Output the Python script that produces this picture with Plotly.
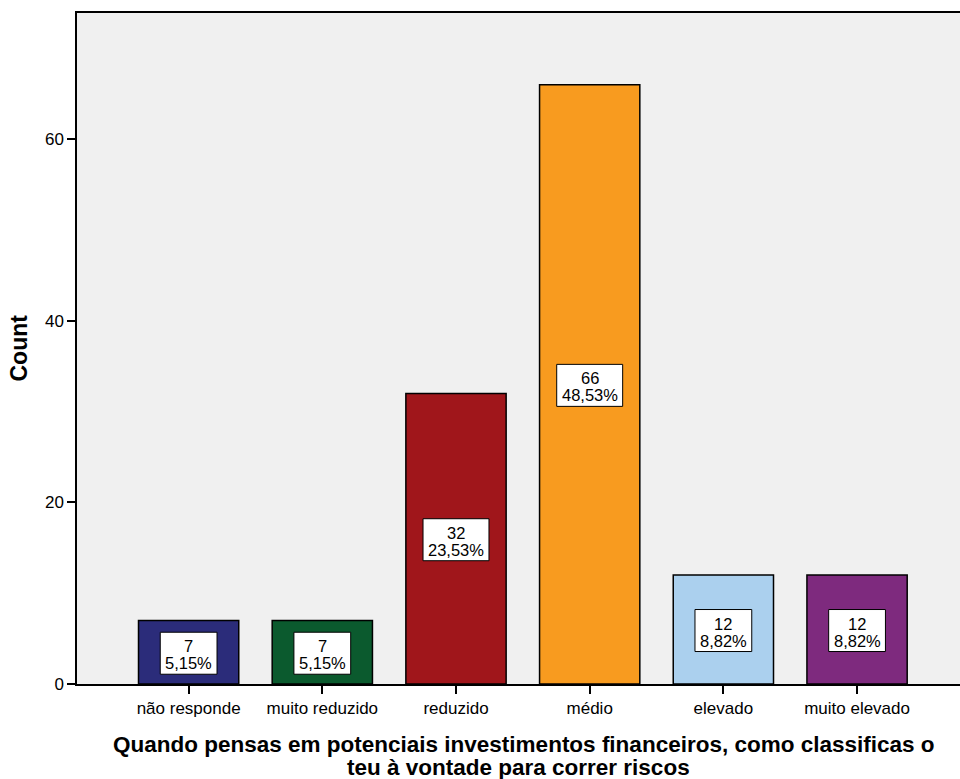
import plotly.graph_objects as go

categories = ["não responde", "muito reduzido", "reduzido", "médio", "elevado", "muito elevado"]
counts = [7, 7, 32, 66, 12, 12]
percents = ["5,15%", "5,15%", "23,53%", "48,53%", "8,82%", "8,82%"]
colors = ["#2B2C7A", "#0B5A2E", "#A0161B", "#F89B1F", "#ABD0EE", "#7E2A7E"]
y_ticks = [0, 20, 40, 60]
x_title_lines = ["Quando pensas em potenciais investimentos financeiros, como classificas o",
                 "teu à vontade para correr riscos"]
y_title = "Count"

FONT = "Liberation Sans, Arial, sans-serif"
LABEL_SIZE = 16.5

def text_width(s, size):
    w = {",": 0.278, "%": 0.889}
    return sum(w.get(c, 0.556) for c in s) * size

fig = go.Figure()
fig.add_trace(go.Bar(
    x=categories, y=counts, width=0.75,
    marker=dict(color=colors, line=dict(color="black", width=1.5)),
    hoverinfo="skip",
))

shapes = []
annotations = []
for i, (c, p) in enumerate(zip(counts, percents)):
    bw = text_width(p, LABEL_SIZE) + 10
    shapes.append(dict(
        type="rect", xref="x", yref="y",
        xsizemode="pixel", ysizemode="pixel",
        xanchor=i, yanchor=c / 2,
        x0=-bw / 2, x1=bw / 2, y0=-22, y1=20,
        fillcolor="white", line=dict(color="black", width=1),
    ))
    annotations.append(dict(
        x=i, y=c / 2, xref="x", yref="y", text=str(c), showarrow=False,
        yshift=6, font=dict(family=FONT, size=LABEL_SIZE, color="black"),
    ))
    annotations.append(dict(
        x=i, y=c / 2, xref="x", yref="y", text=p, showarrow=False,
        yshift=-11, font=dict(family=FONT, size=LABEL_SIZE, color="black"),
    ))

annotations.append(dict(
    x=0.5, y=0, xref="paper", yref="paper", text=x_title_lines[0], showarrow=False,
    xanchor="center", yanchor="middle", xshift=5, yshift=-60, borderpad=0,
    font=dict(family=FONT, size=22.5, color="black", weight="bold"),
))
annotations.append(dict(
    x=0.5, y=0, xref="paper", yref="paper", text=x_title_lines[1], showarrow=False,
    xanchor="center", yanchor="middle", xshift=0, yshift=-83, borderpad=0,
    font=dict(family=FONT, size=22.5, color="black", weight="bold"),
))
annotations.append(dict(
    x=0, y=0.5, xref="paper", yref="paper", text=y_title, showarrow=False,
    textangle=-90, xanchor="center", yanchor="middle", xshift=-59,
    font=dict(family=FONT, size=23, color="black", weight="bold"),
))

fig.update_layout(
    width=960, height=779,
    margin=dict(l=77, r=0, t=13, b=95),
    paper_bgcolor="white", plot_bgcolor="#F0F0F0",
    showlegend=False,
    shapes=shapes, annotations=annotations,
    font=dict(family=FONT, color="black"),
)
fig.update_xaxes(
    type="category", range=[-0.835, 5.77],
    showline=True, linecolor="black", linewidth=1.5, mirror=True,
    ticks="outside", ticklen=8, tickwidth=1.5, tickcolor="black",
    tickfont=dict(family=FONT, size=17, color="black"),
    showgrid=False, zeroline=False,
)
fig.update_yaxes(
    range=[0, 73.9], tickvals=y_ticks,
    showline=True, linecolor="black", linewidth=1.5, mirror=False,
    ticks="outside", ticklen=8, tickwidth=1.5, tickcolor="black",
    tickfont=dict(family=FONT, size=17, color="black"),
    showgrid=False, zeroline=False,
)

fig.write_html(
    "out.html",
    config={"displayModeBar": False},
    post_script="document.body.style.margin='0';document.body.style.padding='0';",
)
